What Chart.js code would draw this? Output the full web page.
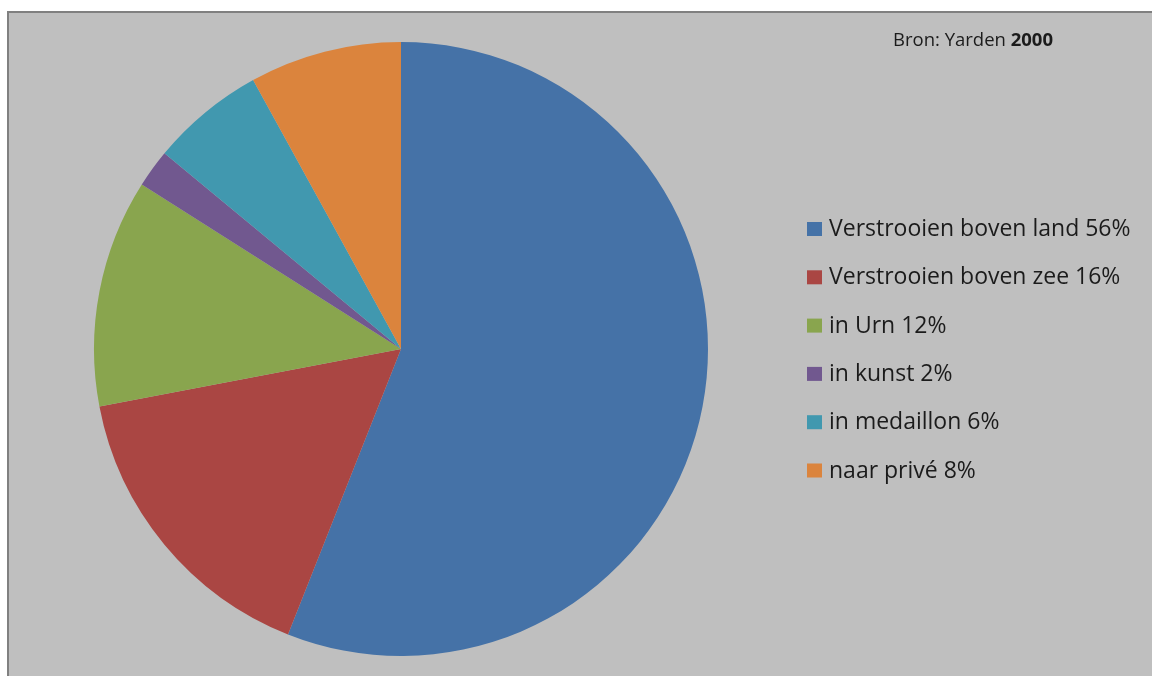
<!DOCTYPE html>
<html>
<head>
<meta charset="utf-8">
<script src="https://cdn.jsdelivr.net/npm/chart.js@4"></script>
<style>
  html, body { margin: 0; padding: 0; background: #fff; overflow: hidden; }
  #frame {
    position: absolute; left: 7px; top: 11px; width: 1160px; height: 680px;
    background: #bfbfbf; border-top: 2px solid #808080; border-left: 2px solid #808080;
  }
  #wrap { position: absolute; left: 0; top: 0; width: 1152px; height: 676px; }
</style>
</head>
<body>
<div id="frame"></div>
<div id="wrap"><canvas id="pie"></canvas></div>
<script>
/* ─── data ─── */
const labels = ['Verstrooien boven land 56%', 'Verstrooien boven zee 16%', 'in Urn 12%', 'in kunst 2%', 'in medaillon 6%', 'naar privé 8%'];
const values = [56, 16, 12, 2, 6, 8];
const colors = ['#4572A7', '#AA4643', '#89A54E', '#71588F', '#4198AF', '#DB843D'];

const FONT = "'Open Sans', 'DejaVu Sans', sans-serif";
const TEXT = '#1b1b1b';

/* ─── legend + source note drawn on the canvas ─── */
const sideLegend = {
  id: 'sideLegend',
  afterDraw(chart) {
    const c = chart.ctx;
    c.save();
    c.textBaseline = 'alphabetic';
    c.font = '23px ' + FONT;
    const meta = chart.getDatasetMeta(0);
    chart.data.labels.forEach((lab, i) => {
      const base = 236 + i * 48.3;
      c.fillStyle = meta.data[i].options.backgroundColor;
      c.fillRect(807, base - 14, 15, 14);
      c.fillStyle = TEXT;
      c.fillText(lab, 829, base);
    });

    c.font = '18.5px ' + FONT;
    const part = 'Bron: Yarden ';
    c.fillText(part, 893, 46);
    const w = c.measureText(part).width;
    c.font = 'bold 18.5px ' + FONT;
    c.fillText('2000', 893 + w, 46);
    c.restore();
  },
};

new Chart(document.getElementById('pie'), {
  type: 'pie',
  data: {
    labels,
    datasets: [{
      data: values,
      backgroundColor: colors,
      borderWidth: 0,
    }],
  },
  options: {
    responsive: true,
    maintainAspectRatio: false,
    animation: false,
    events: [],
    layout: { padding: { left: 94, right: 444, top: 42, bottom: 20 } },
    plugins: {
      legend: { display: false },
      tooltip: { enabled: false },
    },
  },
  plugins: [sideLegend],
});
</script>
</body>
</html>
